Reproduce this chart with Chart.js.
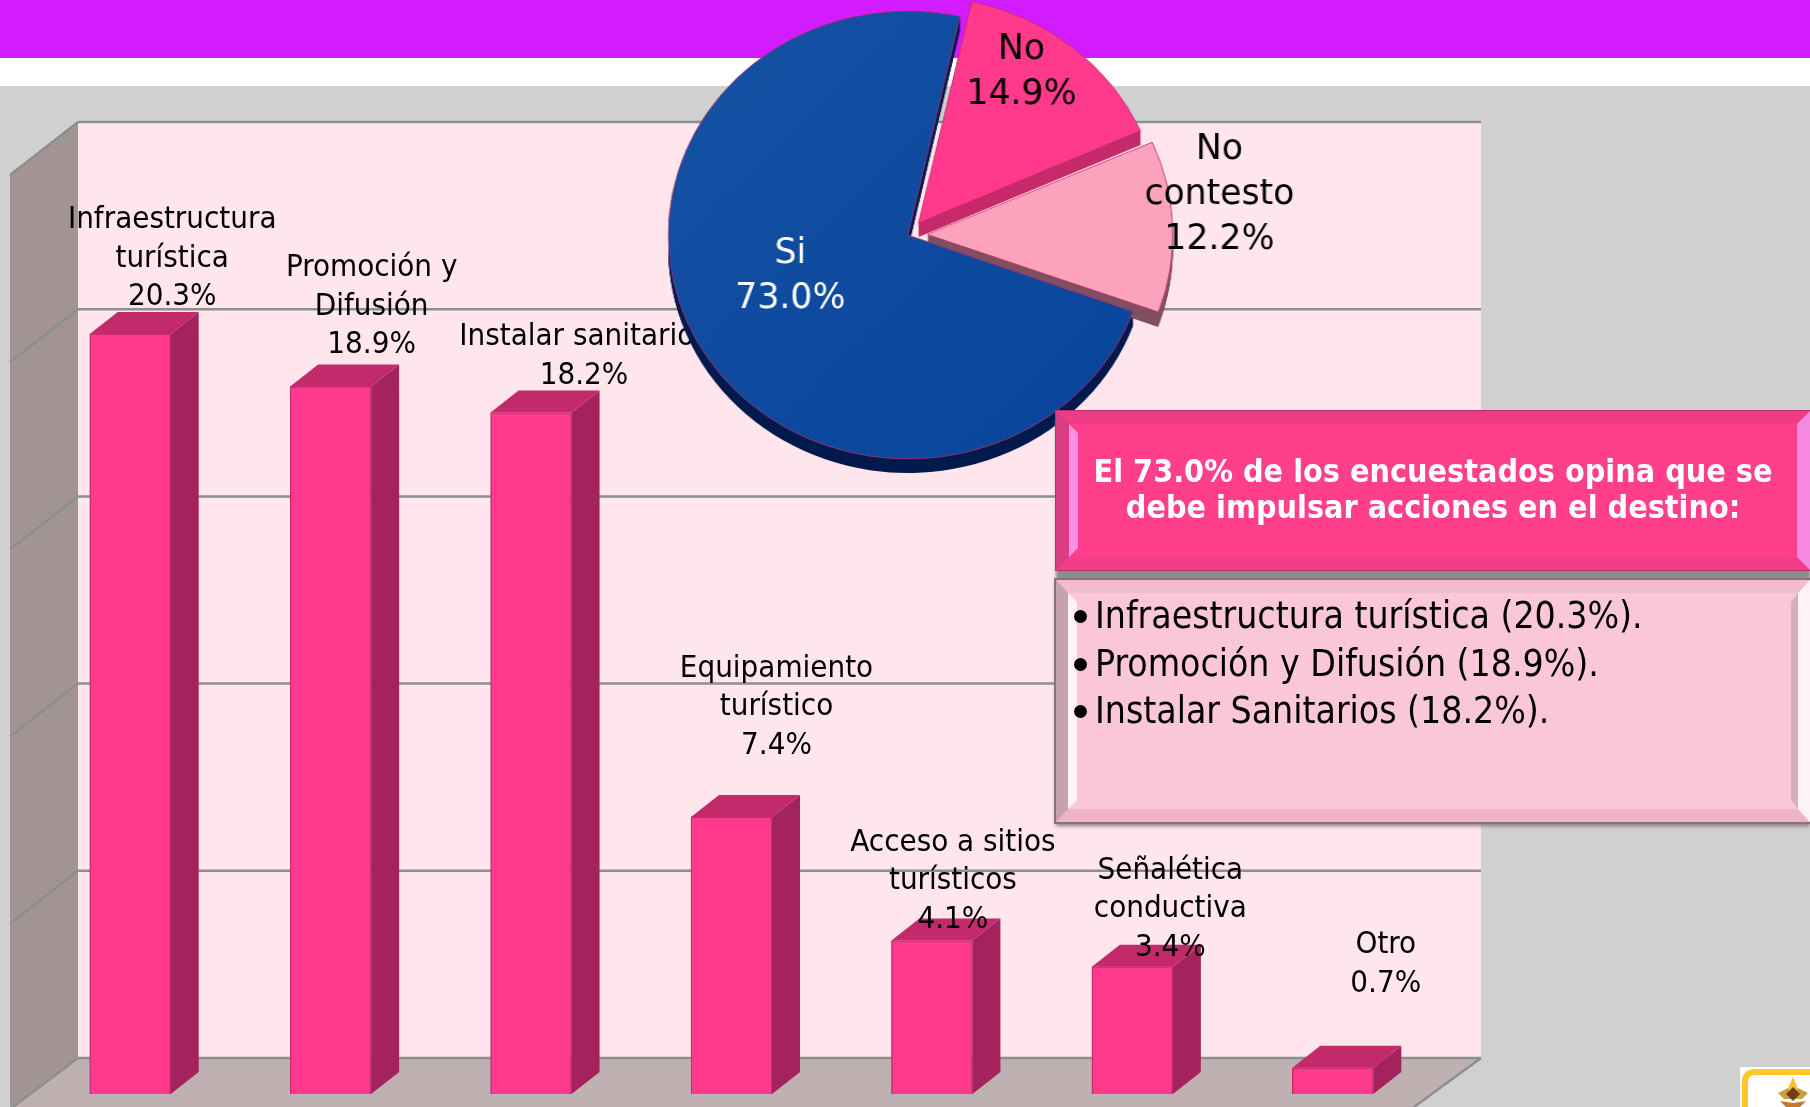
<!DOCTYPE html>
<html>
<head>
    <title>Acciones en el destino</title>
    <style>
        html, body { margin: 0; padding: 0; }
        body { width: 1810px; height: 1107px; overflow: hidden; background: #d0d0d0; position: relative; font-family: "DejaVu Sans Condensed", "DejaVu Sans", sans-serif; }
        .purple { position: absolute; left: 0; top: 0; width: 1810px; height: 58px; background: #d21bff; }
        .white { position: absolute; left: 0; top: 58px; width: 1810px; height: 28px; background: #fff; }
        #bars { position: absolute; left: 0; top: 0; }
        #pie { position: absolute; left: 508px; top: -25px; transform: scaleX(1.07); }
        .box { position: absolute; box-sizing: border-box; left: 1056px; width: 754px; border-style: solid; border-width: 13px; }
        .head { top: 411px; height: 159px; background: #ff3f8b; border-color: #ee3c84 #f58ade #f03e88 #d93e82;
            color: #fff; font-weight: bold; font-size: 32px; line-height: 36px; text-align: center; padding-top: 29px;
            outline: 1px solid #b8336e; box-shadow: 0 10px 3px #8c8c8c; }
        .head::before { content: ""; position: absolute; left: 0; top: 0; bottom: 0; width: 9px; background: #ff8fe0; clip-path: polygon(0 0, 100% 9px, 100% calc(100% - 9px), 0 100%); }
        .list { top: 580px; height: 242px; background: #f9c7d5; border-color: #f3bccc #fff2f6 #edb4c6 #c6a2b0; border-width: 13px 12px 13px 12px;
            color: #000; font-size: 37px; line-height: 47.5px; padding: 0 0 0 27px;
            outline: 2px solid #857479; box-shadow: 0 4px 4px #8a7a80; }
        .list::before { content: ""; position: absolute; left: 0; top: 0; bottom: 0; width: 9px; background: #fff2f6; clip-path: polygon(0 0, 100% 9px, 100% calc(100% - 9px), 0 100%); }
        .list::after { content: ""; position: absolute; right: 0; top: 0; bottom: 0; width: 7px; background: #d4b0be; clip-path: polygon(0 9px, 100% 0, 100% 100%, 0 calc(100% - 9px)); }
        .list div { position: relative; top: -1px; }
        .list div::before { content: ""; position: absolute; left: -21px; top: 18px; width: 13px; height: 13px; border-radius: 50%; background: #000; }
        .logo { position: absolute; left: 1740px; top: 1067px; width: 90px; height: 60px; box-sizing: border-box; background: #fff; padding: 2px 0 0 2px; }
        .logo div { box-sizing: border-box; width: 100%; height: 100%; border: 6px solid #ffc72c; border-radius: 12px; }
        .logo svg { position: absolute; left: 0; top: 0; }
    </style>
</head>
<body>
<div class="purple"></div>
<div class="white"></div>
<canvas id="bars" width="1810" height="1107"></canvas>
<canvas id="pie" width="800" height="520"></canvas>
<div class="box head">El 73.0% de los encuestados opina que se<br>debe impulsar acciones en el destino:</div>
<div class="box list">
    <div>Infraestructura turística (20.3%).</div>
    <div>Promoción y Difusión (18.9%).</div>
    <div>Instalar Sanitarios (18.2%).</div>
</div>
<div class="logo"><div></div>
    <svg width="70" height="40" viewBox="0 0 70 40">
        <polygon points="53,10 59,24 47,24" fill="#fdbf2d"/>
        <polygon points="38,26 48,21 53,32 44,32" fill="#c9a23a"/>
        <polygon points="68,26 58,21 53,32 62,32" fill="#c9a23a"/>
        <polygon points="53,20 60,27 53,34 46,27" fill="#6e3f1c"/>
        <polygon points="40,34 53,36 66,34 60,40 46,40" fill="#c8792a"/>
    </svg>
</div>

<script src="https://cdnjs.cloudflare.com/ajax/libs/Chart.js/4.4.1/chart.umd.js"></script>
<script>
    const categories = [
        ["Infraestructura", "turística"],
        ["Promoción y", "Difusión"],
        ["Instalar sanitarios"],
        ["Equipamiento", "turístico"],
        ["Acceso a sitios", "turísticos"],
        ["Señalética", "conductiva"],
        ["Otro"]
    ];
    const barValues = [20.3, 18.9, 18.2, 7.4, 4.1, 3.4, 0.7];
    const pieNames = [["Si"], ["No"], ["No", "contesto"]];
    const pieValues = [73.0, 14.9, 12.2];

    // where each label sits relative to its bar / the pie centre
    const barLabelShift = [[42, -37], [41, -41], [53, -37], [45, -71], [21, -21], [38, -19], [53, -84]];
    const pieLabelShift = [[-110, 19], [106, -185], [291, -85]];
    const pieLabelColors = ["#fff", "#000", "#000"];

    const font = "'DejaVu Sans Condensed', 'DejaVu Sans', sans-serif";
    const barDepth = { x: 28, y: -22 };
    const wallDepth = { x: 68, y: -53 };
    const backShift = { x: 48, y: -36 };

    function poly(ctx, pts, fill) {
        ctx.beginPath();
        pts.forEach((p, i) => i ? ctx.lineTo(p[0], p[1]) : ctx.moveTo(p[0], p[1]));
        ctx.closePath();
        ctx.fillStyle = fill;
        ctx.fill();
    }

    function line(ctx, a, b) {
        ctx.beginPath();
        ctx.moveTo(a[0], a[1]);
        ctx.lineTo(b[0], b[1]);
        ctx.stroke();
    }

    const roomPlugin = {
        id: "room",
        beforeDatasetsDraw(chart) {
            const ctx = chart.ctx;
            const x = chart.scales.x;
            const y = chart.scales.y;
            const backLeft = x.left + backShift.x;
            const backRight = x.right + backShift.x;
            const backTop = y.getPixelForValue(25) + backShift.y;
            const backBottom = y.getPixelForValue(0) + backShift.y;
            const frontLeft = backLeft - wallDepth.x;
            const drop = -wallDepth.y;

            poly(ctx, [[backLeft, backTop], [backRight, backTop], [backRight, backBottom], [backLeft, backBottom]], "#ffe6ec");
            poly(ctx, [[frontLeft, backTop + drop], [backLeft, backTop], [backLeft, backBottom], [frontLeft, backBottom + drop], [frontLeft, 1107]], "#a39494");
            poly(ctx, [[backLeft, backBottom], [backRight, backBottom], [backRight - 67, 1107], [backLeft - 65, 1107]], "#bfb0b2");

            ctx.strokeStyle = "#8c8f8f";
            ctx.lineWidth = 2.5;
            y.ticks.forEach(t => {
                const py = y.getPixelForValue(t.value) + backShift.y;
                line(ctx, [backLeft, py], [backRight, py]);
                if (t.value > 0) line(ctx, [frontLeft, py + drop], [backLeft, py]);
            });
            line(ctx, [backLeft, backBottom], [backLeft - 65, 1107]);
            line(ctx, [backRight, backBottom], [backRight - 67, 1107]);
        },
        afterDatasetsDraw(chart) {
            const ctx = chart.ctx;
            const meta = chart.getDatasetMeta(0);
            meta.data.forEach(bar => {
                const l = bar.x - bar.width / 2;
                const r = bar.x + bar.width / 2;
                poly(ctx, [[r, bar.y], [r + barDepth.x, bar.y + barDepth.y], [r + barDepth.x, bar.base + barDepth.y], [r, bar.base]], "#a5235d");
                poly(ctx, [[l, bar.y], [l + barDepth.x, bar.y + barDepth.y], [r + barDepth.x, bar.y + barDepth.y], [r, bar.y]], "#c22a6b");
            });

            ctx.fillStyle = "#000";
            ctx.font = "31px " + font;
            ctx.textAlign = "center";
            ctx.textBaseline = "middle";
            meta.data.forEach((bar, i) => {
                const lines = categories[i].concat(barValues[i].toFixed(1) + "%");
                const cx = bar.x + barLabelShift[i][0];
                const last = bar.y + barLabelShift[i][1];
                lines.forEach((text, k) => ctx.fillText(text, cx, last - (lines.length - 1 - k) * 38.5));
            });
        }
    };

    new Chart("bars", {
        type: "bar",
        data: {
            labels: categories.map(c => c.join(" ")),
            datasets: [{
                data: barValues,
                backgroundColor: "#ff3a8c",
                borderColor: "#c92c75",
                borderWidth: 1.5,
                barThickness: 81
            }]
        },
        options: {
            responsive: false,
            animation: false,
            layout: { padding: { left: 30, right: 377, top: 158, bottom: 13 } },
            plugins: { legend: { display: false }, tooltip: { enabled: false } },
            scales: {
                x: { display: false },
                y: { display: false, min: 0, max: 25, ticks: { stepSize: 5 } }
            }
        },
        plugins: [roomPlugin]
    });

    // thickness of the pie, drawn below the slices
    const pieSides = ["#001a4d", "#c72a6b", "#7f5060"];
    const piePlugin = {
        id: "pieDepth",
        beforeDatasetsDraw(chart) {
            const ctx = chart.ctx;
            chart.getDatasetMeta(0).data.forEach((arc, i) => {
                // same shift and growth that Chart.js gives an offset arc
                const off = (arc.options.offset || 0) / 4;
                const mid = (arc.startAngle + arc.endAngle) / 2;
                const ax = arc.x + Math.cos(mid) * off;
                const ay = arc.y + Math.sin(mid) * off;
                const r = arc.outerRadius + off * (1 - Math.sin(Math.min(Math.PI, arc.circumference)));
                ctx.fillStyle = pieSides[i];
                for (let d = 1; d <= 14; d++) {
                    ctx.beginPath();
                    ctx.moveTo(ax, ay + d);
                    ctx.arc(ax, ay + d, r, arc.startAngle, arc.endAngle);
                    ctx.closePath();
                    ctx.fill();
                }
            });
        },
        afterDatasetsDraw(chart) {
            const ctx = chart.ctx;
            const arc = chart.getDatasetMeta(0).data[0];
            ctx.font = "36px " + font;
            ctx.textAlign = "center";
            ctx.textBaseline = "middle";
            pieNames.forEach((name, i) => {
                const lines = name.concat(pieValues[i].toFixed(1) + "%");
                ctx.fillStyle = pieLabelColors[i];
                lines.forEach((text, k) => ctx.fillText(text, arc.x + pieLabelShift[i][0], arc.y + pieLabelShift[i][1] + k * 45));
            });
        }
    };

    const pieCtx = document.getElementById("pie").getContext("2d");
    const blue = pieCtx.createLinearGradient(200, 50, 650, 480);
    blue.addColorStop(0, "#1452a4");
    blue.addColorStop(1, "#08439a");

    new Chart(pieCtx, {
        type: "pie",
        data: {
            labels: pieNames.map(n => n.join(" ")),
            datasets: [{
                data: pieValues,
                backgroundColor: [blue, "#ff3a8c", "#fba3bc"],
                borderColor: "#c22a6b",
                borderWidth: 0.75,
                offset: [0, 62, 72]
            }]
        },
        options: {
            responsive: false,
            animation: false,
            radius: 224,
            rotation: 110,
            plugins: { legend: { display: false }, tooltip: { enabled: false } }
        },
        plugins: [piePlugin]
    });
</script>
</body>
</html>
